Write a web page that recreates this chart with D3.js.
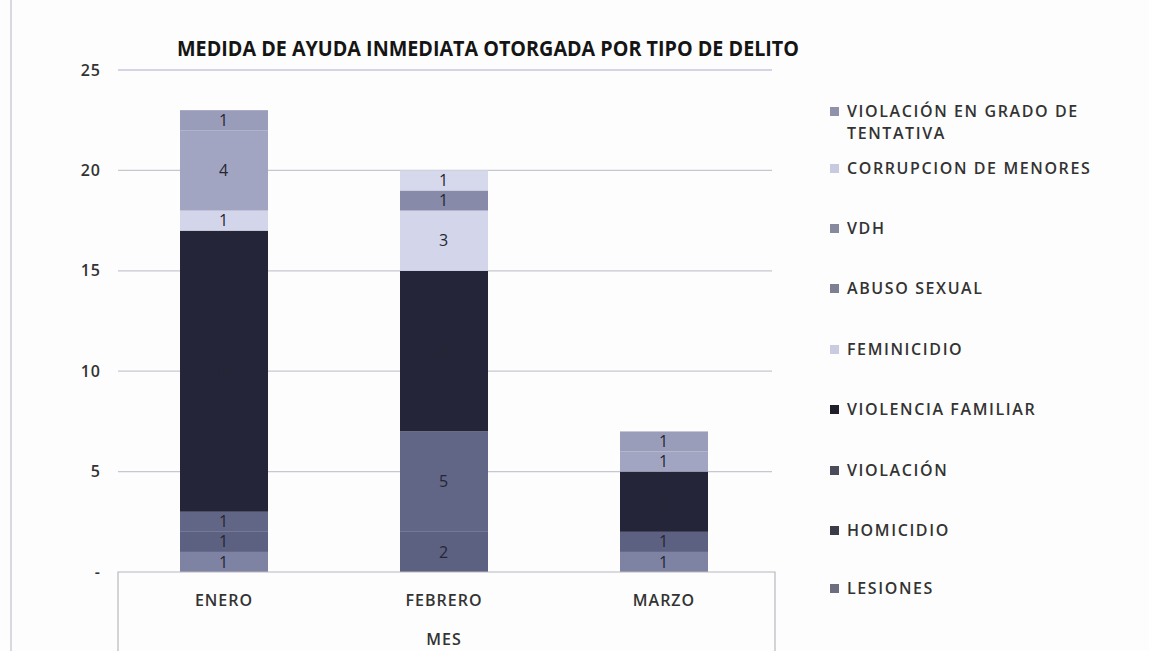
<!DOCTYPE html>
<html>
<head>
<meta charset="utf-8">
<script src="https://cdn.jsdelivr.net/npm/d3@7"></script>
<style>
  body { margin: 0; background: #fdfdfd; }
  svg { display: block; font-family: "Open Sans", Lato, sans-serif; }
</style>
</head>
<body>
<div class="canvas"></div>
<script>
// months on the x axis
const months = ["ENERO", "FEBRERO", "MARZO"];

// crime types, bottom of the stack first
const categories = [
  "LESIONES",
  "HOMICIDIO",
  "VIOLACIÓN",
  "VIOLENCIA FAMILIAR",
  "FEMINICIDIO",
  "ABUSO SEXUAL",
  "VDH",
  "CORRUPCION DE MENORES",
  "VIOLACIÓN EN GRADO DE TENTATIVA"
];

// values per month (ENERO, FEBRERO, MARZO)
const lesiones = [1, 0, 1];
const homicidio = [1, 2, 1];
const violacion = [1, 5, 0];
const violenciaFamiliar = [14, 8, 3];
const feminicidio = [1, 3, 0];
const abusoSexual = [0, 1, 0];
const vdh = [4, 0, 1];
const corrupcion = [0, 1, 0];
const tentativa = [1, 0, 1];

const yTicks = [0, 5, 10, 15, 20, 25];

const colors = {
  "LESIONES": "#7e82a3",
  "HOMICIDIO": "#5c6081",
  "VIOLACIÓN": "#616586",
  "VIOLENCIA FAMILIAR": "#25253a",
  "FEMINICIDIO": "#d3d5ea",
  "ABUSO SEXUAL": "#878aa8",
  "VDH": "#a2a5c1",
  "CORRUPCION DE MENORES": "#d6d8ec",
  "VIOLACIÓN EN GRADO DE TENTATIVA": "#9a9dba"
};

const seriesValues = [lesiones, homicidio, violacion, violenciaFamiliar, feminicidio,
  abusoSexual, vdh, corrupcion, tentativa];

const table = months.map((m, i) => {
  const row = { month: m };
  categories.forEach((c, j) => { row[c] = seriesValues[j][i]; });
  return row;
});

const width = 1149;
const height = 651;
const textStyle = sel => sel
  .attr("font-family", "'Open Sans', sans-serif")
  .attr("font-weight", 600)
  .attr("letter-spacing", 1)
  .attr("fill", "#333");

const svg = d3.select(".canvas")
  .append("svg")
  .attr("width", width)
  .attr("height", height);

svg.append("rect")
  .attr("width", width)
  .attr("height", height)
  .attr("fill", "#fdfdfd");

// faint frame line on the left
svg.append("line")
  .attr("x1", 11).attr("x2", 11)
  .attr("y1", 0).attr("y2", height)
  .attr("stroke", "#d8d8de")
  .attr("stroke-width", 2);

const x = d3.scaleBand()
  .domain(months)
  .range([114, 774])
  .paddingInner(0.6)
  .paddingOuter(0.3);

const y = d3.scaleLinear()
  .domain([0, 25])
  .range([572, 70]);

// gridlines
svg.append("g")
  .selectAll("line")
  .data(yTicks.filter(t => t > 0))
  .enter()
  .append("line")
  .attr("x1", 118)
  .attr("x2", 772)
  .attr("y1", d => y(d))
  .attr("y2", d => y(d))
  .attr("stroke", d => d === 25 ? "#a9aed0" : "#c6c7d0")
  .attr("stroke-width", 1.2);

// y axis labels
const yAxis = d3.axisLeft(y)
  .tickValues(yTicks)
  .tickSize(0)
  .tickPadding(0)
  .tickFormat(d => d === 0 ? "-" : d);

svg.append("g")
  .attr("transform", "translate(101,0)")
  .call(yAxis)
  .call(g => g.select(".domain").remove())
  .selectAll("text")
  .call(textStyle)
  .attr("font-size", 16);

// stacked bars
const stack = d3.stack().keys(categories);
const stacked = stack(table);

const layer = svg.append("g")
  .selectAll("g")
  .data(stacked)
  .enter()
  .append("g")
  .attr("fill", s => colors[s.key]);

layer.selectAll("rect")
  .data(s => s.filter(d => d[1] - d[0] > 0))
  .enter()
  .append("rect")
  .attr("x", d => x(d.data.month))
  .attr("width", x.bandwidth())
  .attr("y", d => y(d[1]))
  .attr("height", d => y(d[0]) - y(d[1]));

layer.selectAll("text")
  .data(s => s.filter(d => d[1] - d[0] > 0))
  .enter()
  .append("text")
  .attr("x", d => x(d.data.month) + x.bandwidth() / 2)
  .attr("y", d => y((d[0] + d[1]) / 2))
  .attr("dy", "0.35em")
  .attr("text-anchor", "middle")
  .call(textStyle)
  .attr("font-weight", 400)
  .attr("font-size", 16)
  .attr("fill", "#262632")
  .text(d => d[1] - d[0]);

// x axis box
svg.append("path")
  .attr("d", "M118,660 L118,572 L775,572 L775,660")
  .attr("fill", "none")
  .attr("stroke", "#b8b8c0")
  .attr("stroke-width", 1.2);

const xAxis = d3.axisBottom(x).tickSize(0).tickPadding(0);
svg.append("g")
  .attr("transform", "translate(0,595)")
  .call(xAxis)
  .call(g => g.select(".domain").remove())
  .selectAll("text")
  .call(textStyle)
  .attr("font-size", 16);

svg.append("text")
  .attr("x", 444)
  .attr("y", 645)
  .attr("text-anchor", "middle")
  .call(textStyle)
  .attr("font-size", 16)
  .text("MES");

// title
svg.append("text")
  .attr("x", 488)
  .attr("y", 56)
  .attr("text-anchor", "middle")
  .attr("font-family", "'Open Sans', sans-serif")
  .attr("font-size", 21)
  .attr("font-weight", "bold")
  .attr("fill", "#151515")
  .attr("textLength", 622)
  .attr("lengthAdjust", "spacingAndGlyphs")
  .text("MEDIDA DE AYUDA INMEDIATA OTORGADA POR TIPO DE DELITO");

// legend, top item first
const legendItems = [
  { key: "VIOLACIÓN EN GRADO DE TENTATIVA", lines: ["VIOLACIÓN EN GRADO DE", "TENTATIVA"], y: 111 },
  { key: "CORRUPCION DE MENORES", lines: ["CORRUPCION DE MENORES"], y: 168 },
  { key: "VDH", lines: ["VDH"], y: 228 },
  { key: "ABUSO SEXUAL", lines: ["ABUSO SEXUAL"], y: 288 },
  { key: "FEMINICIDIO", lines: ["FEMINICIDIO"], y: 349 },
  { key: "VIOLENCIA FAMILIAR", lines: ["VIOLENCIA FAMILIAR"], y: 409 },
  { key: "VIOLACIÓN", lines: ["VIOLACIÓN"], y: 470 },
  { key: "HOMICIDIO", lines: ["HOMICIDIO"], y: 530 },
  { key: "LESIONES", lines: ["LESIONES"], y: 588 }
];

const legendColors = {
  "VIOLACIÓN EN GRADO DE TENTATIVA": "#8f92ab",
  "CORRUPCION DE MENORES": "#c8cadf",
  "VDH": "#87899f",
  "ABUSO SEXUAL": "#7d7f94",
  "FEMINICIDIO": "#c9cbe0",
  "VIOLENCIA FAMILIAR": "#1f1f2a",
  "VIOLACIÓN": "#4a4c5c",
  "HOMICIDIO": "#3a3c4a",
  "LESIONES": "#6c6e80"
};

const block = svg.append("g")
  .selectAll("g")
  .data(legendItems)
  .enter()
  .append("g")
  .attr("transform", d => `translate(0,${d.y})`);

block.append("rect")
  .attr("x", 830)
  .attr("y", -4)
  .attr("width", 9)
  .attr("height", 9)
  .attr("fill", d => legendColors[d.key]);

block.selectAll("text")
  .data(d => d.lines)
  .enter()
  .append("text")
  .attr("x", 847)
  .attr("y", (l, i) => i * 22)
  .attr("dy", "0.35em")
  .call(textStyle)
  .attr("letter-spacing", 1.6)
  .attr("font-size", 16)
  .text(l => l);
</script>
</body>
</html>
